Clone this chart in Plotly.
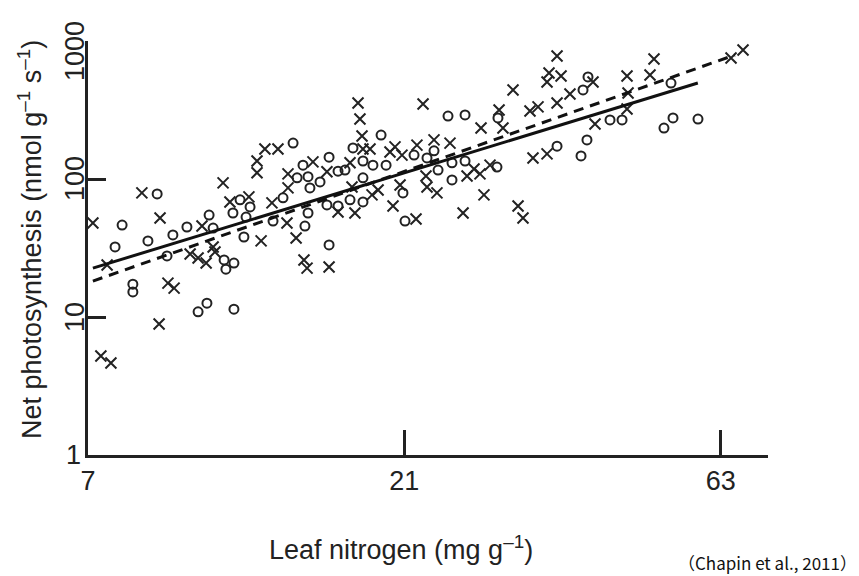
import math
import plotly.graph_objects as go

# Leaf nitrogen (mg g-1) and net photosynthesis (nmol g-1 s-1)
x_cross = [7.12, 7.32, 7.58, 7.48, 8.44, 8.99, 8.96, 9.24, 9.44, 9.98,
           10.26, 10.55, 10.40, 10.81, 10.88, 11.19, 11.46, 12.24, 12.59, 12.59,
           12.94, 13.54, 12.77, 13.26, 13.97, 14.02, 14.02, 14.42, 14.82, 14.98,
           15.29, 16.05, 16.17, 16.68, 17.69, 17.39, 17.88, 18.00, 18.13, 18.19,
           18.64, 17.51, 18.77, 19.17, 20.19, 19.98, 20.33, 20.83, 20.69, 21.94,
           21.87, 22.41, 22.64, 22.72, 23.52, 23.28, 24.61, 26.11, 26.75, 27.31,
           25.75, 27.41, 27.69, 28.28, 29.18, 29.58, 30.63, 31.17, 31.71, 32.49,
           33.41, 32.83, 34.47, 34.47, 34.71, 35.69, 36.19, 35.69, 37.33, 40.44,
           40.72, 45.51, 45.67, 45.51, 49.29, 49.98, 65.31, 68.09]
y_cross = [48.0, 5.22, 4.64, 23.8, 79.3, 52.1, 8.90, 17.6, 16.2, 28.6,
           26.8, 24.6, 45.6, 32.2, 29.6, 93.7, 68.2, 74.2, 135, 111,
           165, 165, 35.6, 67.1, 48.0, 86.2, 109, 37.4, 25.9, 22.6,
           133, 113, 23.0, 57.7, 56.7, 131, 355, 272, 205, 165,
           165, 87.6, 76.7, 83.3, 63.8, 157, 171, 149, 90.6, 176,
           51.3, 350, 105, 87.6, 79.3, 192, 182, 105, 118, 109,
           56.7, 234, 76.7, 126, 316, 234, 442, 63.8, 52.1, 311,
           333, 142, 152, 505, 586, 779, 558, 355, 413, 505,
           250, 558, 420, 322, 567, 741, 753, 861]

x_circle = [7.69, 7.88, 8.62, 8.90, 8.18, 8.18, 9.21, 9.40, 9.87, 10.26,
            10.58, 10.66, 10.81, 11.23, 11.30, 11.62, 11.62, 11.58, 11.87, 12.29,
            12.12, 12.03, 13.31, 13.78, 14.27, 14.47, 15.03, 15.13, 14.77, 15.67,
            16.17, 15.03, 14.87, 16.17, 16.05, 16.68, 17.39, 18.19, 16.68, 17.09,
            17.57, 18.19, 18.83, 19.71, 18.19, 19.37, 20.90, 21.05, 21.72, 22.72,
            23.28, 23.61, 24.44, 25.93, 24.78, 24.78, 25.93, 28.97, 29.07, 35.69,
            39.06, 39.74, 39.60, 38.79, 42.90, 44.73, 53.02, 53.39, 51.74, 58.23]
y_circle = [32.2, 46.4, 35.6, 78.0, 17.3, 15.2, 27.7, 39.3, 44.9, 10.9,
            12.6, 54.8, 44.1, 25.9, 22.2, 24.6, 11.4, 56.7, 70.6, 62.7,
            53.0, 38.0, 49.6, 73.0, 182, 102, 104, 86.2, 126, 95.3,
            144, 56.7, 45.6, 33.3, 64.9, 63.8, 70.6, 68.2, 114, 116,
            168, 135, 126, 126, 102, 208, 79.3, 49.6, 149, 142,
            160, 116, 286, 291, 131, 98.5, 135, 122, 277, 173,
            442, 549, 192, 147, 268, 268, 496, 277, 234, 272]

# fitted lines (end points)
solid_x = [7.12, 58.2]
solid_y = [22.6, 496]
dash_x = [7.12, 66.2]
dash_y = [18.2, 792]

x_tick_vals = [7, 21, 63]
x_tick_text = ["7", "21", "63"]
y_tick_vals = [10, 100, 1000]
y_tick_text = ["10", "100", "1000"]
y_tick_shift = [0, 0, -10]

INK = "#222222"
FONT = "Liberation Sans, Arial, sans-serif"
FS = 27

fig = go.Figure()
fig.add_trace(go.Scatter(x=x_cross, y=y_cross, mode="markers",
                         marker=dict(symbol="x-thin-open", size=11, color=INK,
                                     line=dict(width=2, color=INK)),
                         showlegend=False))
fig.add_trace(go.Scatter(x=x_circle, y=y_circle, mode="markers",
                         marker=dict(symbol="circle-open", size=9, color=INK,
                                     line=dict(width=2, color=INK)),
                         showlegend=False))
fig.add_trace(go.Scatter(x=solid_x, y=solid_y, mode="lines",
                         line=dict(color="#111111", width=3), showlegend=False))
fig.add_trace(go.Scatter(x=dash_x, y=dash_y, mode="lines",
                         line=dict(color="#111111", width=3, dash="10px,7px"),
                         showlegend=False))

L, R, T, B = 88, 91, 41, 121
W, H = 859, 576
pw = W - L - R
ph = H - T - B
x0 = math.log10(7)
x1 = x0 + pw / 663.0

fig.update_layout(
    width=W, height=H,
    margin=dict(l=L, r=R, t=T, b=B, pad=0),
    paper_bgcolor="white", plot_bgcolor="white",
    font=dict(family=FONT, size=FS, color=INK),
    xaxis=dict(type="log", range=[x0, x1], showgrid=False, zeroline=False,
               showline=True, linecolor=INK, linewidth=3,
               ticks="inside", ticklen=25, tickwidth=2.5, tickcolor=INK,
               tickvals=x_tick_vals, ticktext=x_tick_text,
               tickfont=dict(size=FS, family=FONT, color=INK)),
    yaxis=dict(type="log", range=[0, 3], showgrid=False, zeroline=False,
               showline=True, linecolor=INK, linewidth=3,
               ticks="inside", ticklen=18, tickwidth=2.5, tickcolor=INK,
               tickvals=y_tick_vals, showticklabels=False),
)

# y tick labels (rotated, as in the original)
for v, t, s in zip(y_tick_vals, y_tick_text, y_tick_shift):
    fig.add_annotation(text=t, xref="paper", yref="y", x=-13 / pw, y=math.log10(v),
                       xanchor="center", yanchor="middle", textangle=-90, yshift=s,
                       showarrow=False, font=dict(size=FS, family=FONT, color=INK))
fig.add_annotation(text="1", xref="paper", yref="paper",
                   x=-15 / pw, y=0, xanchor="center", yanchor="middle",
                   showarrow=False, font=dict(size=FS, family=FONT, color=INK))
fig.add_annotation(text="Net photosynthesis (nmol g<sup>\u20131</sup> s<sup>\u20131</sup>)",
                   xref="paper", yref="paper", x=(30 - L) / pw, y=(455 - 240) / ph,
                   xanchor="center", yanchor="middle", textangle=-90,
                   showarrow=False, font=dict(size=FS, family=FONT, color=INK))
fig.add_annotation(text="Leaf nitrogen (mg g<sup>\u20131</sup>)", xref="paper", yref="paper",
                   x=(401 - L) / pw, y=(455 - 548) / ph, xanchor="center", yanchor="middle",
                   showarrow=False, font=dict(size=FS, family=FONT, color=INK))
fig.add_annotation(text="\uff08Chapin et al., 2011\uff09", xref="paper", yref="paper",
                   x=(858 - L) / pw, y=(455 - 562) / ph, xanchor="right", yanchor="middle",
                   borderpad=0,
                   showarrow=False, font=dict(size=17, family="Noto Sans CJK SC, Noto Sans, sans-serif", color="#111111"))

fig.write_html("out.html")
